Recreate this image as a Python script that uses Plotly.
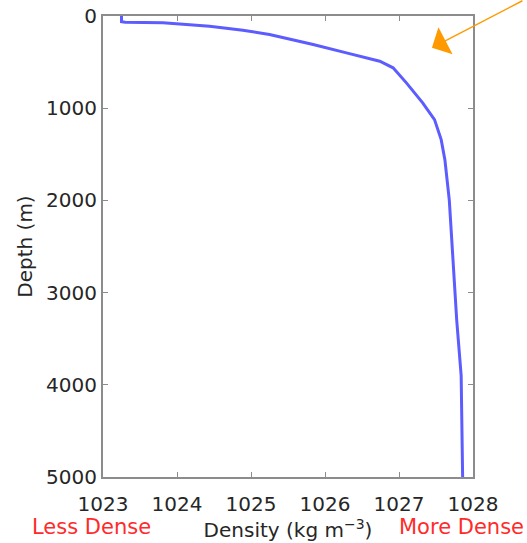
import plotly.graph_objects as go

depth_m = [0, 62, 67, 74, 111, 154, 201, 248, 309, 400, 491, 562, 725, 942,
           1124, 1341, 1558, 2000, 2400, 3000, 3300, 3900, 4500, 5000]
density = [1023.25, 1023.25, 1023.30, 1023.81, 1024.44, 1024.89, 1025.25,
           1025.52, 1025.84, 1026.29, 1026.74, 1026.92, 1027.10, 1027.32,
           1027.48, 1027.57, 1027.62, 1027.68, 1027.71, 1027.76, 1027.78,
           1027.84, 1027.85, 1027.86]
x_ticks = [1023, 1024, 1025, 1026, 1027, 1028]
y_ticks = [0, 1000, 2000, 3000, 4000, 5000]

fig = go.Figure()
fig.add_trace(go.Scatter(x=density, y=depth_m, mode="lines",
                         line=dict(color="#5c5cff", width=3), showlegend=False))

FAM = "DejaVu Sans, Liberation Sans, sans-serif"
tick_font = dict(family=FAM, size=20, color="#262626")
title_font = dict(family=FAM, size=20, color="#262626")
axis_common = dict(showgrid=False, zeroline=False, showline=True, linecolor="#8c8c8c",
                   linewidth=2, mirror="ticks", ticks="inside", ticklen=5,
                   tickcolor="#8c8c8c", tickwidth=1, tickfont=tick_font)

fig.update_xaxes(range=[1023, 1028], tickvals=x_ticks,
                 ticktext=[str(v) for v in x_ticks], ticklabelstandoff=8,
                 title=dict(text="Density (kg m<sup>−3</sup>)", font=title_font, standoff=2),
                 **axis_common)
fig.update_yaxes(range=[5000, 0], tickvals=y_ticks,
                 ticktext=[str(v) for v in y_ticks], ticklabelstandoff=0,
                 title=dict(text="Depth (m)", font=title_font, standoff=8),
                 **axis_common)

red = dict(family=FAM, size=21, color="#ff2a2a")
fig.add_annotation(text="Less Dense", xref="paper", yref="paper", x=-0.197, y=-0.108,
                   xanchor="left", yanchor="middle", showarrow=False, font=red)
fig.add_annotation(text="More Dense", xref="paper", yref="paper", x=0.795, y=-0.108,
                   xanchor="left", yanchor="middle", showarrow=False, font=red)
fig.add_annotation(text="", xref="paper", yref="paper", x=0.889, y=0.931,
                   ax=92, ay=-67, axref="pixel", ayref="pixel", showarrow=True,
                   arrowhead=1, arrowsize=3.4, arrowwidth=1.5, arrowcolor="#ff9900")

fig.update_layout(width=527, height=543,
                  margin=dict(l=103, r=54, t=16, b=66, autoexpand=False),
                  plot_bgcolor="white", paper_bgcolor="white", font=title_font)
fig.write_html("out.html", config={"displayModeBar": False},
               post_script="document.body.style.margin='0';document.body.style.overflow='hidden';")
